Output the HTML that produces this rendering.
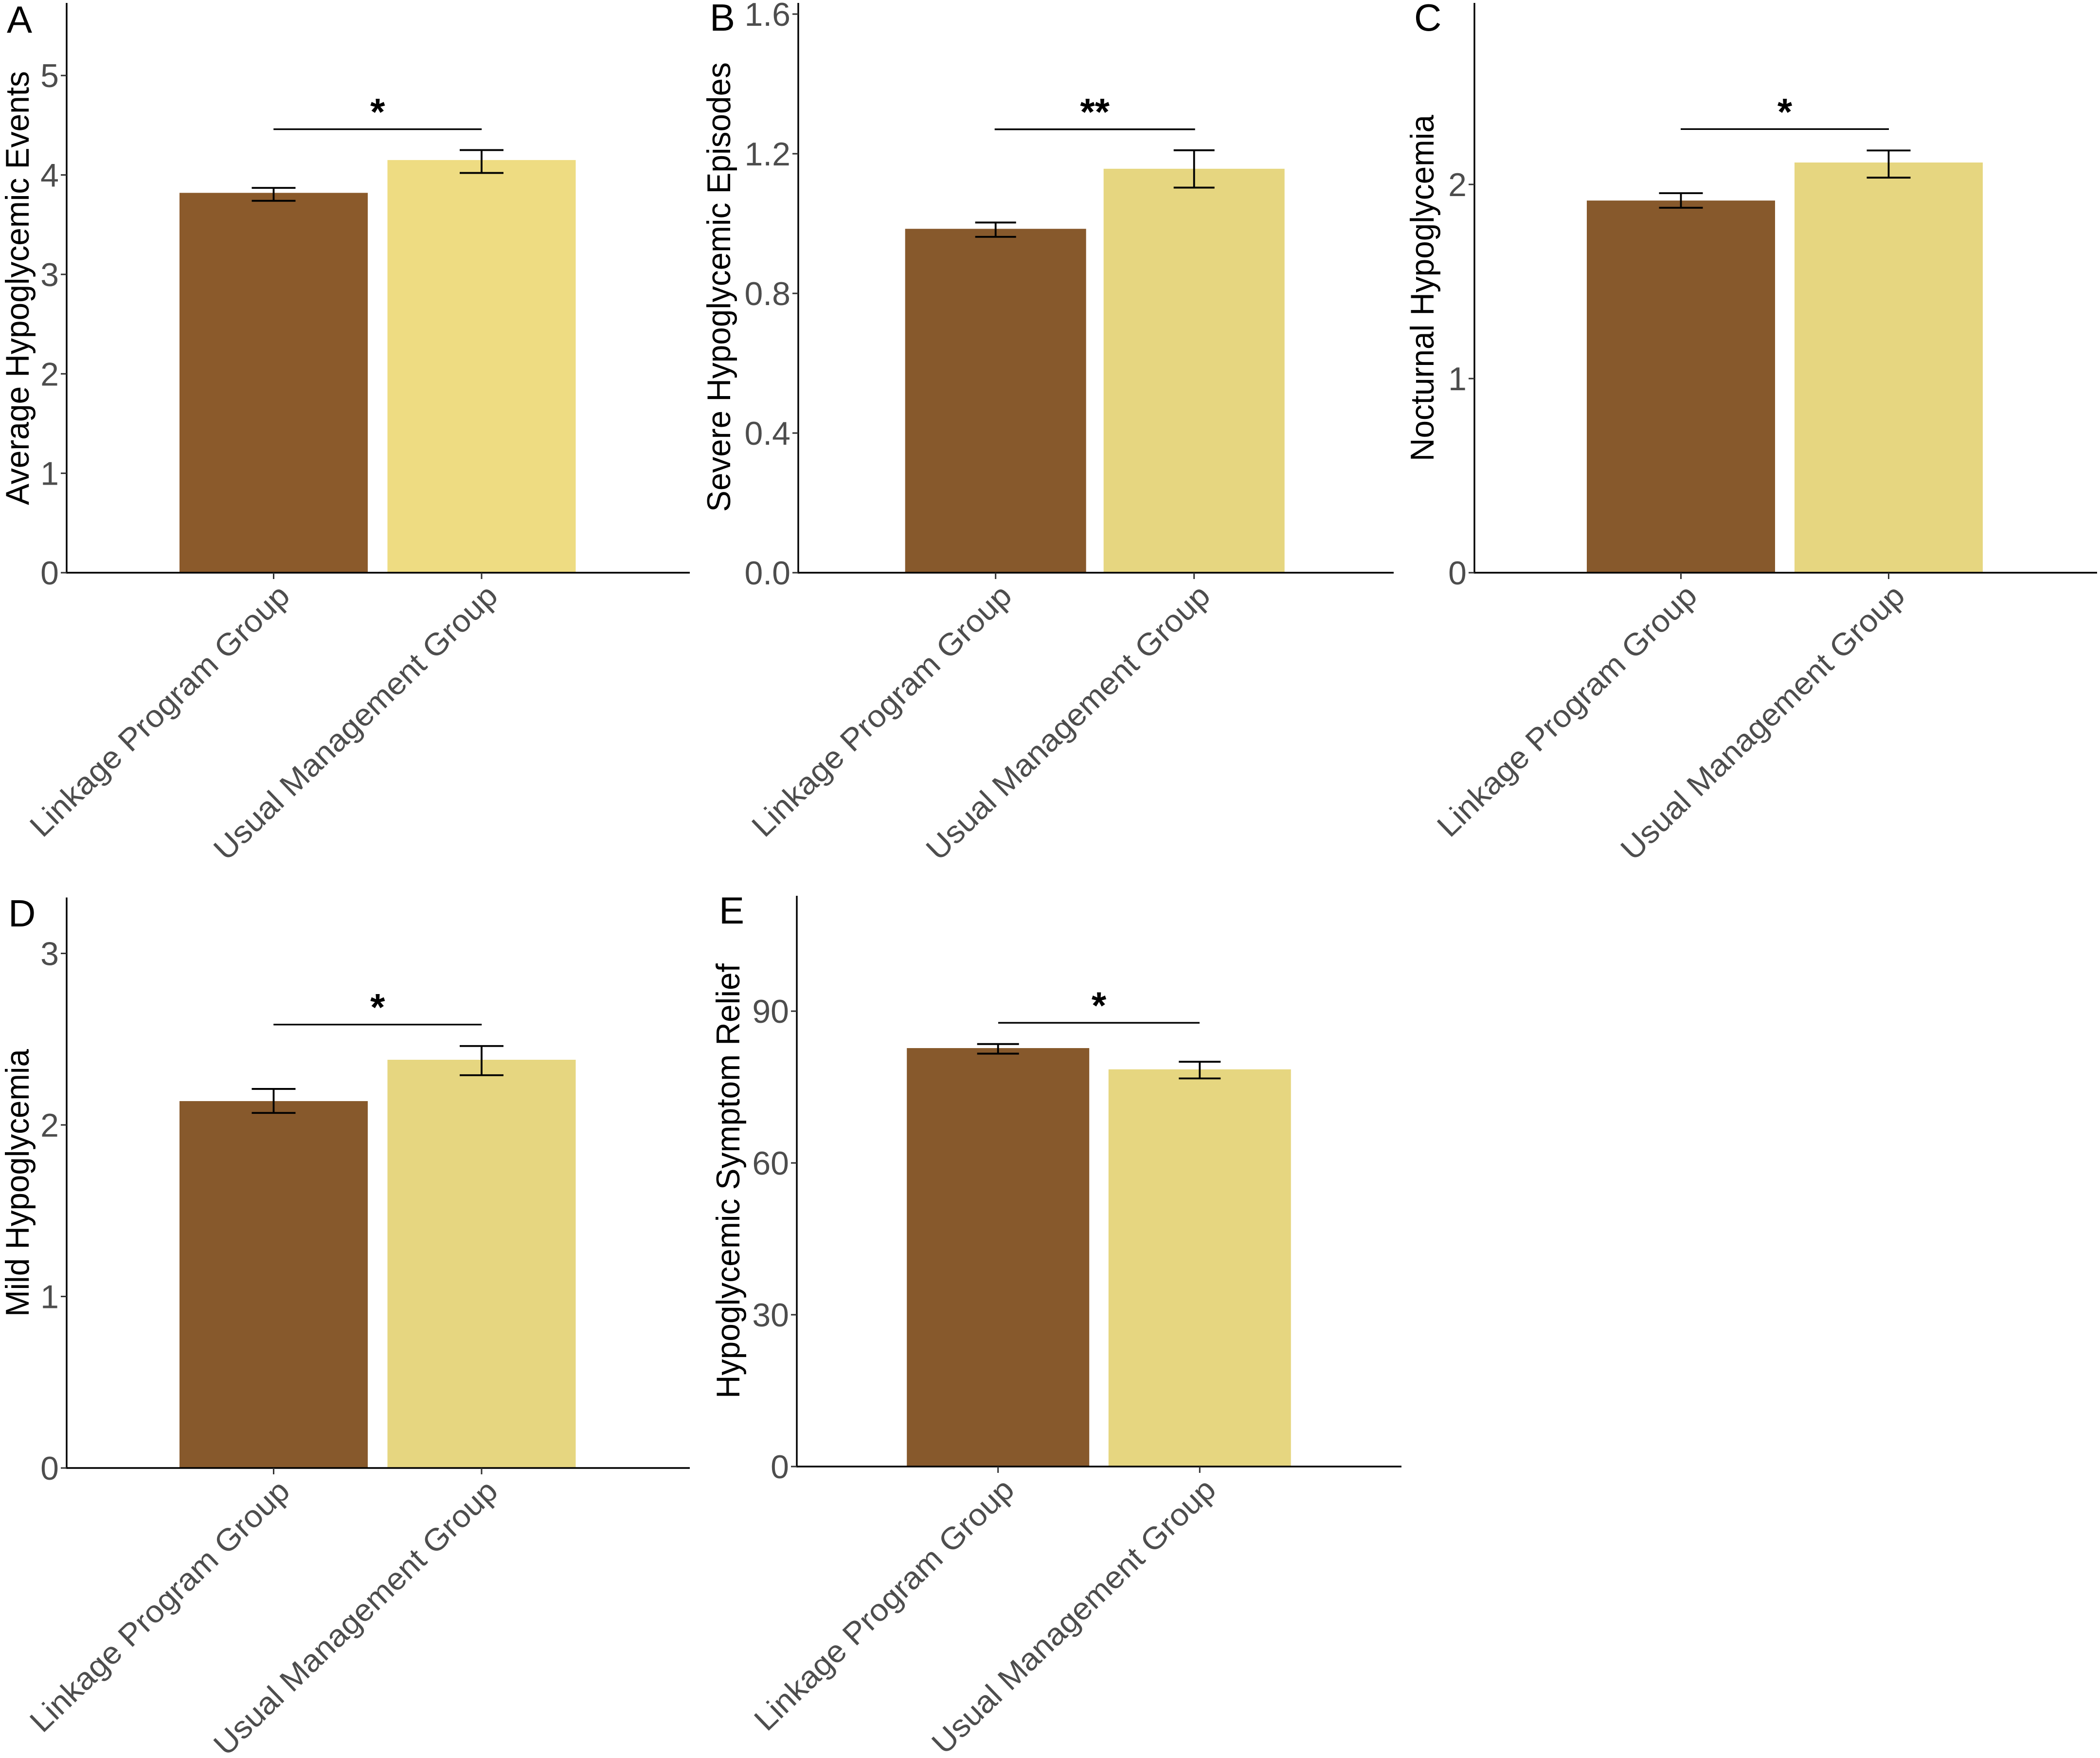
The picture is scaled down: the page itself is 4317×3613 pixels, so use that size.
<!DOCTYPE html>
<html lang="en">
<head>
<meta charset="utf-8">
<title>Hypoglycemia outcomes by group</title>
<style>
html,body{margin:0;padding:0;background:#fff;}
svg{display:block;font-family:"Liberation Sans",sans-serif;}
.letter{font-size:78px;fill:#000;}
.ytitle{font-size:68px;fill:#000;}
.tick{font-size:68px;fill:#4d4d4d;}
.xlab{font-size:64px;fill:#4d4d4d;}
.sig{font-size:78px;fill:#000;font-weight:bold;}
</style>
</head>
<body>
<svg id="figure" xmlns="http://www.w3.org/2000/svg" width="4317" height="3613" viewBox="0 0 4317 3613">
  <rect x="0" y="0" width="4317" height="3613" fill="#ffffff"/>
  <g id="panel-a">
    <text class="letter" x="14" y="67">A</text>
    <text class="ytitle" transform="translate(59,1038) rotate(-90)" textLength="892" lengthAdjust="spacingAndGlyphs">Average Hypoglycemic Events</text>
  </g>
  <g id="panel-b">
    <text class="letter" x="1459" y="63">B</text>
    <text class="ytitle" transform="translate(1501,1052) rotate(-90)" textLength="924" lengthAdjust="spacingAndGlyphs">Severe Hypoglycemic Episodes</text>
  </g>
  <g id="panel-c">
    <text class="letter" x="2907" y="63">C</text>
    <text class="ytitle" transform="translate(2947,948) rotate(-90)" textLength="712" lengthAdjust="spacingAndGlyphs">Nocturnal Hypoglycemia</text>
  </g>
  <g id="panel-d">
    <text class="letter" x="17" y="1904">D</text>
    <text class="ytitle" transform="translate(59,2706) rotate(-90)" textLength="550" lengthAdjust="spacingAndGlyphs">Mild Hypoglycemia</text>
  </g>
  <g id="panel-e">
    <text class="letter" x="1478" y="1898">E</text>
    <text class="ytitle" transform="translate(1520,2874) rotate(-90)" textLength="894" lengthAdjust="spacingAndGlyphs">Hypoglycemic Symptom Relief</text>
  </g>
</svg>
<script>
// ---- chart data ----
const categories = ["Linkage Program Group", "Usual Management Group"];

const panelAValues = [3.82, 4.15];
const panelAErrLow = [3.74, 4.02];
const panelAErrHigh = [3.87, 4.25];
const panelATicks = [0, 1, 2, 3, 4, 5];
const panelATickLabels = ["0", "1", "2", "3", "4", "5"];
const panelASig = 4.46;
const panelASigLabel = "*";
const panelADomainMax = 5.73;

const panelBValues = [0.985, 1.157];
const panelBErrLow = [0.962, 1.103];
const panelBErrHigh = [1.003, 1.21];
const panelBTicks = [0, 0.4, 0.8, 1.2, 1.6];
const panelBTickLabels = ["0.0", "0.4", "0.8", "1.2", "1.6"];
const panelBSig = 1.27;
const panelBSigLabel = "**";
const panelBDomainMax = 1.632;

const panelCValues = [1.917, 2.113];
const panelCErrLow = [1.88, 2.035];
const panelCErrHigh = [1.955, 2.175];
const panelCTicks = [0, 1, 2];
const panelCTickLabels = ["0", "1", "2"];
const panelCSig = 2.285;
const panelCSigLabel = "*";
const panelCDomainMax = 2.935;

const panelDValues = [2.139, 2.38];
const panelDErrLow = [2.07, 2.29];
const panelDErrHigh = [2.21, 2.46];
const panelDTicks = [0, 1, 2, 3];
const panelDTickLabels = ["0", "1", "2", "3"];
const panelDSig = 2.585;
const panelDSigLabel = "*";
const panelDDomainMax = 3.326;

const panelEValues = [82.7, 78.5];
const panelEErrLow = [81.6, 76.7];
const panelEErrHigh = [83.5, 80.0];
const panelETicks = [0, 30, 60, 90];
const panelETickLabels = ["0", "30", "60", "90"];
const panelESig = 87.7;
const panelESigLabel = "*";
const panelEDomainMax = 112.8;

// ---- layout (pixels) ----
const layoutA = {id:"a", left:137, right:1418, bottom:1177, top:6, c0:562.5, step:427.5, barW:387, cap:90, sigHalf:214, yellow:"#eedc82", brown:"#8b5a2b"};
const layoutB = {id:"b", left:1641, right:2865, bottom:1177, top:6, c0:2046.7, step:408, barW:372, cap:84, sigHalf:206, yellow:"#e6d680", brown:"#87592c"};
const layoutC = {id:"c", left:3031, right:4311, bottom:1177, top:6, c0:3455.5, step:427, barW:387, cap:90, sigHalf:214, yellow:"#e6d680", brown:"#87592c"};
const layoutD = {id:"d", left:137, right:1418, bottom:3017, top:1844.5, c0:562.5, step:427.5, barW:387, cap:90, sigHalf:214, yellow:"#e6d680", brown:"#87592c"};
const layoutE = {id:"e", left:1638, right:2881, bottom:3014, top:1841, c0:2051.7, step:414.6, barW:375, cap:86, sigHalf:207, yellow:"#e6d680", brown:"#87592c"};

const SVGNS = "http://www.w3.org/2000/svg";

function make(tag, parent, attrs) {
  const node = document.createElementNS(SVGNS, tag);
  for (const k in attrs) node.setAttribute(k, attrs[k]);
  parent.appendChild(node);
  return node;
}

function drawPanel(layout, values, errLow, errHigh, ticks, tickLabels, sig, sigLabel, domainMax) {
  const root = document.getElementById("panel-" + layout.id);
  const pxPerUnit = (layout.bottom - layout.top) / domainMax;
  const yScale = function (v) { return layout.bottom - v * pxPerUnit; };
  const xScale = function (i) { return layout.c0 + i * layout.step; };
  const lineStyle = {stroke: "#000", "stroke-width": 3.4};
  const errStyle = {stroke: "#000", "stroke-width": 3.8};
  const tickStyle = {stroke: "#333", "stroke-width": 3};

  // bars
  values.forEach(function (v, i) {
    const bar = make("rect", root, {x: xScale(i) - layout.barW / 2, y: yScale(v), width: layout.barW, height: layout.bottom - yScale(v), fill: i === 0 ? layout.brown : layout.yellow});
    
    
  });

  // error bars
  values.forEach(function (v, i) {
    const cx = xScale(i);
    const stem = make("line", root, Object.assign({x1: cx, x2: cx, y1: yScale(errLow[i]), y2: yScale(errHigh[i])}, errStyle));
    
    
    const capTop = make("line", root, Object.assign({x1: cx - layout.cap / 2, x2: cx + layout.cap / 2, y1: yScale(errHigh[i]), y2: yScale(errHigh[i])}, errStyle));
    
    
    const capBottom = make("line", root, Object.assign({x1: cx - layout.cap / 2, x2: cx + layout.cap / 2, y1: yScale(errLow[i]), y2: yScale(errLow[i])}, errStyle));
    
    
  });

  // axes
  const yAxis = make("line", root, Object.assign({x1: layout.left, x2: layout.left, y1: layout.top, y2: layout.bottom + 1.7}, lineStyle));
  
  
  const xAxis = make("line", root, Object.assign({x1: layout.left, x2: layout.right, y1: layout.bottom, y2: layout.bottom}, lineStyle));
  
  

  // y ticks
  ticks.forEach(function (t, i) {
    const y = yScale(t);
    const mark = make("line", root, Object.assign({x1: layout.left - 12, x2: layout.left, y1: y, y2: y}, tickStyle));
    
    
    const label = make("text", root, {class: "tick", x: layout.left - 16, y: y + 24, "text-anchor": "end"});
    
    
    label.textContent = tickLabels[i];
  });

  // x ticks and rotated labels
  categories.forEach(function (c, i) {
    const cx = xScale(i);
    const mark = make("line", root, Object.assign({x1: cx, x2: cx, y1: layout.bottom, y2: layout.bottom + 13}, tickStyle));
    
    
    const lx = cx + 37;
    const ly = layout.bottom + 52;
    const label = make("text", root, {class: "xlab", transform: "translate(" + lx + "," + ly + ") rotate(-44)", "text-anchor": "end", textLength: i === 0 ? 712 : 781, lengthAdjust: "spacingAndGlyphs"});
    
    
    label.textContent = c;
  });

  // significance bracket
  const mid = (xScale(0) + xScale(1)) / 2;
  const sigY = yScale(sig);
  const bracket = make("line", root, Object.assign({x1: mid - layout.sigHalf, x2: mid + layout.sigHalf, y1: sigY, y2: sigY}, lineStyle));
  
  
  const star = make("text", root, {class: "sig", x: mid, y: sigY - 9, "text-anchor": "middle"});
  
  
  star.textContent = sigLabel;
}

drawPanel(layoutA, panelAValues, panelAErrLow, panelAErrHigh, panelATicks, panelATickLabels, panelASig, panelASigLabel, panelADomainMax);
drawPanel(layoutB, panelBValues, panelBErrLow, panelBErrHigh, panelBTicks, panelBTickLabels, panelBSig, panelBSigLabel, panelBDomainMax);
drawPanel(layoutC, panelCValues, panelCErrLow, panelCErrHigh, panelCTicks, panelCTickLabels, panelCSig, panelCSigLabel, panelCDomainMax);
drawPanel(layoutD, panelDValues, panelDErrLow, panelDErrHigh, panelDTicks, panelDTickLabels, panelDSig, panelDSigLabel, panelDDomainMax);
drawPanel(layoutE, panelEValues, panelEErrLow, panelEErrHigh, panelETicks, panelETickLabels, panelESig, panelESigLabel, panelEDomainMax);
</script>
</body>
</html>
